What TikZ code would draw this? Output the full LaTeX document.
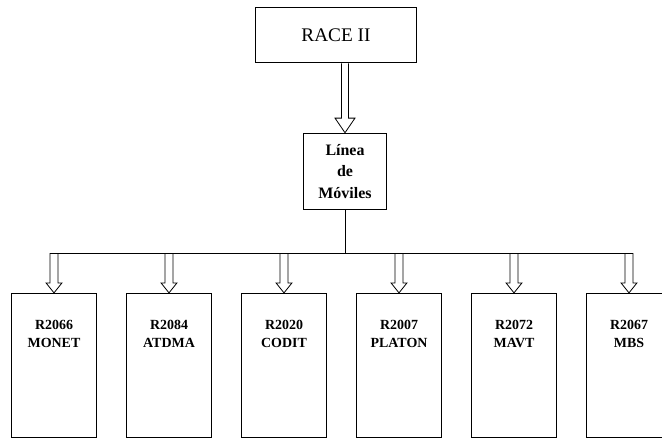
\documentclass[tikz,border=0pt]{standalone}
\usepackage{fontspec}
\setmainfont{Liberation Serif}
\usetikzlibrary{positioning}
\tikzset{
  box/.style={draw, line width=0.6pt, inner sep=0pt},
  projtext/.style={anchor=north, yshift=-17pt, align=center, font=\bfseries\fontsize{10.5}{13.5}\selectfont},
  hollow/.style args={#1/#2/#3}{draw, line width=0.6pt, to path={
    ([xshift=-#1]\tikztostart) -- ([xshift=-#1,yshift=#3]\tikztotarget)
    -- ([xshift=-#2,yshift=#3]\tikztotarget) -- (\tikztotarget)
    -- ([xshift=#2,yshift=#3]\tikztotarget) -- ([xshift=#1,yshift=#3]\tikztotarget)
    -- ([xshift=#1]\tikztostart)}},
}
\begin{document}
\begin{tikzpicture}[x=0.2646mm, y=-0.2646mm, line width=0.6pt]
\useasboundingbox (0,0) rectangle (662,440);
\clip (0,0) rectangle (662,440);

\node[box, minimum width=121.5pt, minimum height=42pt, font=\fontsize{14.5}{17}\selectfont] at (336,35) (race) {RACE II};
\node[box, minimum width=63pt, minimum height=57.75pt, align=center, font=\bfseries\fontsize{12}{16.5}\selectfont] at (345,171.5) (linea) {Línea\\de\\Móviles};

\coordinate (t0) at (race.south -| linea.north);
\draw[hollow=2.6pt/7.5pt/11pt] (t0) to (linea.north);

\coordinate (bus) at (345,253);
\draw (linea.south) -- (bus);

\foreach \code/\name [count=\i] in {R2066/MONET, R2084/ATDMA, R2020/CODIT, R2007/PLATON, R2072/MAVT, R2067/MBS} {
  \node[box, minimum width=64.5pt, minimum height=108.75pt, label={[projtext]north:\code\\\name}] at (54+115*\i-115,365.5) (p\i) {};
  \coordinate (tap\i) at (p\i.north |- bus);
  \draw[hollow=3pt/6pt/7.5pt] (tap\i) to (p\i.north);
}
\draw ([xshift=-3pt]tap1) -- ([xshift=3pt]tap6);
\end{tikzpicture}
\end{document}
